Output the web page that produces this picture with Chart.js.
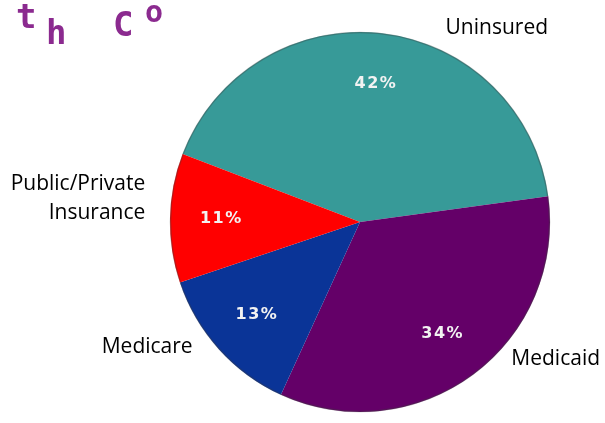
<!DOCTYPE html>
<html>
<head>
<meta charset="utf-8">
<script src="https://cdn.jsdelivr.net/npm/chart.js@4"></script>
<style>
  html, body { margin: 0; padding: 0; background: #fff; }
  #wrap { position: relative; width: 605px; height: 423px; overflow: hidden; }
  .scrawl { position: absolute; color: #8b2a8f; font-family: "DejaVu Sans Mono", monospace; font-weight: bold; font-size: 34px; line-height: 1; }
</style>
</head>
<body>
<div id="wrap">
  <canvas id="grafico" width="605" height="423"></canvas>
  <!-- restos do título recortado no canto -->
  <span class="scrawl" style="left:16px; top:-1px;">t</span>
  <span class="scrawl" style="left:46px; top:15px;">h</span>
  <span class="scrawl" style="left:113px; top:7px;">C</span>
  <span class="scrawl" style="left:145px; top:-3px; font-size:30px;">o</span>
</div>
<script>
// dados do gráfico
const categorias = ['Uninsured', 'Medicaid', 'Medicare', 'Public/Private Insurance'];
const percentuais = [42, 34, 13, 11];
const cores = ['#379a98', '#640068', '#0a3497', '#ff0000'];
const rotulosFora = [['Uninsured'], ['Medicaid'], ['Medicare'], ['Public/Private', 'Insurance']];

// posição dos rótulos externos, relativa ao centro da pizza (em raios)
const posRotulos = [
  { dx: 0.72, dy: -1.02, align: 'center' },
  { dx: 1.03, dy: 0.72, align: 'center' },
  { dx: -1.12, dy: 0.66, align: 'center' },
  { dx: -1.13, dy: -0.2, align: 'right' }
];

const pluginRotulos = {
    id: 'rotulos',
    afterDatasetsDraw(chart) {
        const ctx = chart.ctx;
        const arcos = chart.getDatasetMeta(0).data;
        if (!arcos.length) return;
        const cx = arcos[0].x, cy = arcos[0].y, r = arcos[0].outerRadius;

        // leve sombra na borda
        ctx.save();
        ctx.beginPath();
        ctx.arc(cx, cy, r - 0.5, 0, Math.PI * 2);
        ctx.strokeStyle = 'rgba(60,60,60,0.35)';
        ctx.lineWidth = 1.5;
        ctx.stroke();
        ctx.restore();

        // percentuais dentro das fatias
        ctx.save();
        ctx.font = 'bold 16px "DejaVu Sans", Verdana, sans-serif';
        ctx.fillStyle = '#f2f2f2';
        ctx.textAlign = 'center';
        ctx.textBaseline = 'middle';
        if ('letterSpacing' in ctx) ctx.letterSpacing = '1.5px';
        arcos.forEach((arco, i) => {
            const meio = (arco.startAngle + arco.endAngle) / 2;
            const d = r * 0.73;
            ctx.fillText(percentuais[i] + '%', cx + Math.cos(meio) * d, cy + Math.sin(meio) * d);
        });
        ctx.restore();

        // nomes das categorias fora da pizza
        ctx.save();
        ctx.font = '21px "Open Sans", "Noto Sans", sans-serif';
        ctx.fillStyle = '#000';
        ctx.textBaseline = 'middle';
        rotulosFora.forEach((linhas, i) => {
            const p = posRotulos[i];
            ctx.textAlign = p.align;
            linhas.forEach((txt, j) => {
                ctx.fillText(txt, cx + p.dx * r, cy + p.dy * r + j * 29);
            });
        });
        ctx.restore();
    }
};

new Chart(document.getElementById('grafico'), {
    type: 'pie',
    data: {
        labels: categorias,
        datasets: [{ data: percentuais, backgroundColor: cores, borderWidth: 0 }]
    },
    options: {
        responsive: false,
        animation: false,
        rotation: -69,
        layout: { padding: { left: 170, right: 55, top: 32, bottom: 11 } },
        plugins: { legend: { display: false }, tooltip: { enabled: false } }
    },
    plugins: [pluginRotulos]
});
</script>
</body>
</html>
